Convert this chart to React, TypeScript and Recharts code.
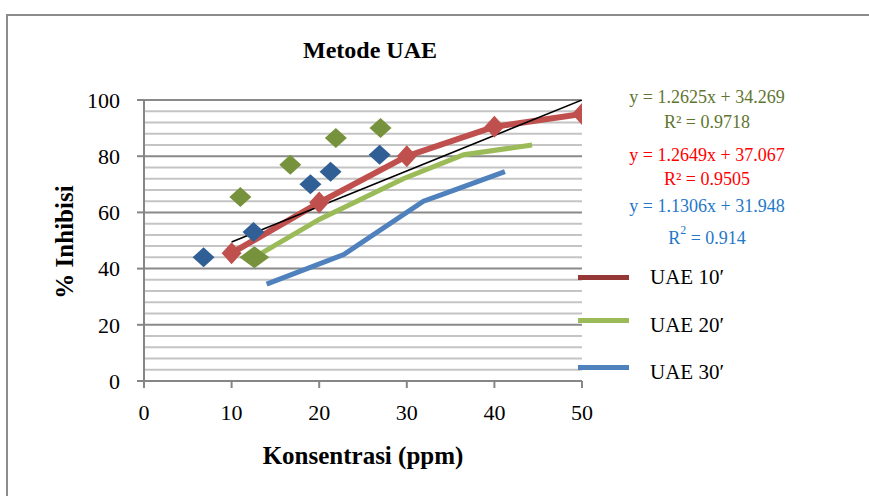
import React from "react";
import { ComposedChart, Line, Scatter, XAxis, YAxis, CartesianGrid, ReferenceLine } from "recharts";

// measured points (ppm, % inhibisi)
const uae30Scatter = [
  { x: 6.8, y: 44 },
  { x: 12.5, y: 53 },
  { x: 19, y: 70 },
  { x: 21.3, y: 74.5 },
  { x: 26.9, y: 80.5 },
];
const uae20Scatter = [
  { x: 11, y: 65.5 },
  { x: 16.7, y: 77 },
  { x: 21.9, y: 86.5 },
  { x: 27, y: 90 },
];
const uae10Line = [
  { x: 10, y: 45.5 },
  { x: 20, y: 63.5 },
  { x: 30, y: 80 },
  { x: 40, y: 90.5 },
  { x: 50, y: 95 },
];
const uae20Line = [
  { x: 12.6, y: 44 },
  { x: 20, y: 57.5 },
  { x: 29.6, y: 72 },
  { x: 36.5, y: 80.5 },
  { x: 44.3, y: 84 },
];
const uae30Line = [
  { x: 14, y: 34.5 },
  { x: 22.8, y: 45 },
  { x: 31.9, y: 64 },
  { x: 34, y: 66.3 },
  { x: 41.2, y: 74.5 },
];
const trendLine = [
  { x: 10, y: 49.5 },
  { x: 50, y: 100 },
];

const xTicks = [0, 10, 20, 30, 40, 50];
const yTicks = [0, 20, 40, 60, 80, 100];
const minorTicks = [4, 8, 12, 16, 24, 28, 32, 36, 44, 48, 52, 56, 64, 68, 72, 76, 84, 88, 92, 96];

const legendItems = [
  { name: "UAE 10\u2032", color: "#953735" },
  { name: "UAE 20\u2032", color: "#9BBB59" },
  { name: "UAE 30\u2032", color: "#4F81BD" },
];

const FONT = "'Liberation Serif', serif";

function Diamond({ cx, cy, w, h, fill }: { cx?: number; cy?: number; w: number; h: number; fill: string }) {
  if (cx == null || cy == null) return null;
  const pts = `${cx},${cy - h / 2} ${cx + w / 2},${cy} ${cx},${cy + h / 2} ${cx - w / 2},${cy}`;
  return <polygon points={pts} fill={fill} />;
}

function LegendBox() {
  return (
    <div style={{ position: "absolute", left: 578, top: 262, width: 200, height: 130 }}>
      {legendItems.map((it, i) => (
        <div key={it.name} style={{ position: "absolute", top: i * 47, left: 0, height: 30, display: "flex", alignItems: "center" }}>
          <div style={{ width: 51, height: 5, background: it.color, marginRight: 21, marginTop: i === 0 ? 1 : -8 }} />
          <span style={{ fontFamily: FONT, fontSize: 21, color: "#000", marginTop: i === 0 ? 0 : 2 }}>{it.name}</span>
        </div>
      ))}
    </div>
  );
}

export default function App() {
  const tickStyle = { fontFamily: FONT, fontSize: 22, fill: "#000" };
  const eq = (color: string, top: number): React.CSSProperties => ({
    position: "absolute",
    left: 607,
    width: 200,
    top,
    textAlign: "center",
    fontFamily: FONT,
    fontSize: 18,
    color,
    lineHeight: "20px",
    whiteSpace: "nowrap",
  });
  return (
    <div style={{ position: "absolute", left: 0, top: 0, width: 869, height: 496, overflow: "hidden", background: "#fff" }}>
      <div style={{ position: "absolute", left: 6, top: 14, width: 900, height: 600, border: "2px solid #8c8c8c" }} />
      <div style={{ position: "absolute", left: 0, width: 740, top: 37, textAlign: "center", fontFamily: FONT, fontWeight: "bold", fontSize: 24 }}>
        Metode UAE
      </div>
      <ComposedChart width={869} height={496} margin={{ top: 100, right: 287, bottom: 85, left: 0 }} style={{ position: "absolute", left: 0, top: 0 }}>
        <CartesianGrid vertical={false} horizontal stroke="#8a8a8a" strokeWidth={2} strokeDasharray="" />
        {minorTicks.map((v) => (
          <ReferenceLine key={v} y={v} stroke="#c4c4c4" strokeWidth={2} ifOverflow="hidden" />
        ))}
        <XAxis
          type="number"
          dataKey="x"
          domain={[0, 50]}
          ticks={xTicks}
          height={30}
          tickSize={7}
          tickMargin={16}
          tick={tickStyle}
          axisLine={{ stroke: "#868686", strokeWidth: 2 }}
          tickLine={{ stroke: "#868686", strokeWidth: 2 }}
          allowDataOverflow
        />
        <YAxis
          type="number"
          dataKey="y"
          domain={[0, 100]}
          ticks={yTicks}
          width={144}
          tickSize={7}
          tickMargin={17}
          tick={tickStyle}
          axisLine={{ stroke: "#868686", strokeWidth: 2 }}
          tickLine={{ stroke: "#868686", strokeWidth: 2 }}
          allowDataOverflow
        />
        <Line data={uae30Line} dataKey="y" stroke="#4F81BD" strokeWidth={5} dot={false} isAnimationActive={false} type="linear" />
        <Line
          data={uae20Line}
          dataKey="y"
          stroke="#9BBB59"
          strokeWidth={5}
          type="linear"
          isAnimationActive={false}
          dot={(p: any) =>
            p.index === 0 ? <Diamond key={p.index} cx={p.cx} cy={p.cy} w={30} h={22} fill="#76923C" /> : <g key={p.index} />
          }
        />
        <Line
          data={uae10Line}
          dataKey="y"
          stroke="#C0504D"
          strokeWidth={6}
          type="linear"
          isAnimationActive={false}
          dot={(p: any) => <Diamond key={p.index} cx={p.cx} cy={p.cy} w={20} h={22} fill="#C0504D" />}
        />
        <Line data={trendLine} dataKey="y" stroke="#000" strokeWidth={1.6} dot={false} isAnimationActive={false} type="linear" />
        <Scatter data={uae30Scatter} dataKey="y" isAnimationActive={false} shape={(p: any) => <Diamond cx={p.cx} cy={p.cy} w={22} h={20} fill="#2F5F95" />} />
        <Scatter data={uae20Scatter} dataKey="y" isAnimationActive={false} shape={(p: any) => <Diamond cx={p.cx} cy={p.cy} w={22} h={20} fill="#76923C" />} />
      </ComposedChart>
      <LegendBox />
      <div
        style={{
          position: "absolute",
          left: 65,
          top: 242,
          transform: "translate(-50%, -50%) rotate(-90deg)",
          fontFamily: FONT,
          fontWeight: "bold",
          fontSize: 25,
          whiteSpace: "nowrap",
        }}
      >
        % Inhibisi
      </div>
      <div style={{ position: "absolute", left: 163, width: 400, top: 442, textAlign: "center", fontFamily: FONT, fontWeight: "bold", fontSize: 25 }}>
        Konsentrasi (ppm)
      </div>
      <div style={eq("#5F7530", 87)}>y = 1.2625x + 34.269</div>
      <div style={eq("#5F7530", 112)}>R² = 0.9718</div>
      <div style={eq("#FF0000", 145)}>y = 1.2649x + 37.067</div>
      <div style={eq("#FF0000", 169)}>R² = 0.9505</div>
      <div style={eq("#1F78C8", 196)}>y = 1.1306x + 31.948</div>
      <div style={eq("#1F78C8", 228)}>
        R<sup style={{ fontSize: 12, verticalAlign: "10px", lineHeight: 0 }}>2</sup> = 0.914
      </div>
    </div>
  );
}
